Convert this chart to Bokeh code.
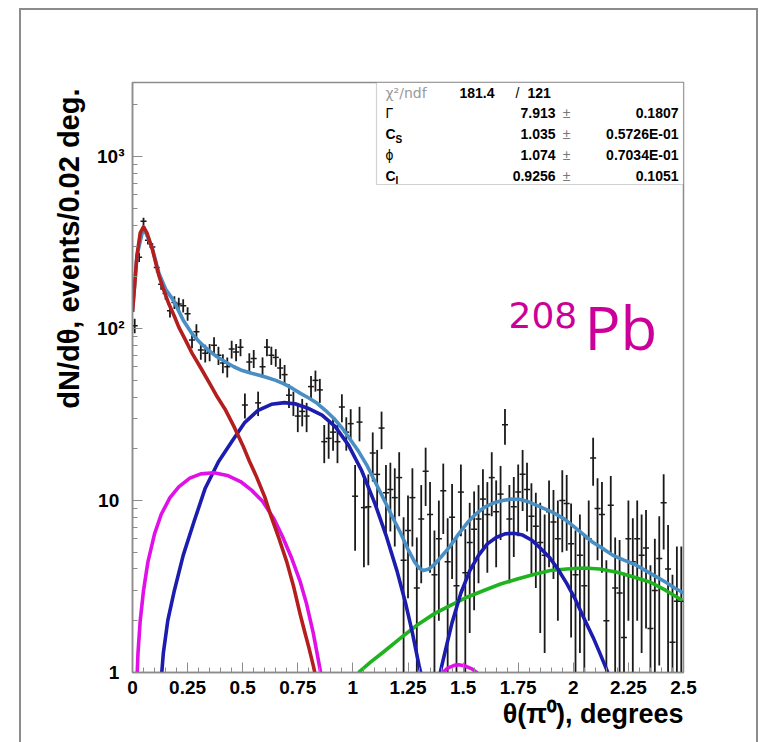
from bokeh.plotting import figure
from bokeh.models import Range1d, FixedTicker, Label, BoxAnnotation, ColumnDataSource, Title
from bokeh.embed import file_html
from bokeh.resources import INLINE

# ---------------- data ----------------
THETA = [0.01, 0.03, 0.05, 0.07, 0.09, 0.11, 0.13, 0.15, 0.17, 0.19,
         0.21, 0.23, 0.25, 0.27, 0.29, 0.31, 0.33, 0.35, 0.37, 0.39,
         0.41, 0.43, 0.45, 0.47, 0.49, 0.51, 0.53, 0.55, 0.57, 0.59,
         0.61, 0.63, 0.65, 0.67, 0.69, 0.71, 0.73, 0.75, 0.77, 0.79,
         0.81, 0.83, 0.85, 0.87, 0.89, 0.91, 0.93, 0.95, 0.97, 0.99,
         1.01, 1.03, 1.05, 1.07, 1.09, 1.11, 1.13, 1.15, 1.17, 1.19,
         1.21, 1.23, 1.25, 1.27, 1.29, 1.31, 1.33, 1.35, 1.37, 1.39,
         1.41, 1.43, 1.45, 1.47, 1.49, 1.51, 1.53, 1.55, 1.57, 1.59,
         1.61, 1.63, 1.65, 1.67, 1.69, 1.71, 1.73, 1.75, 1.77, 1.79,
         1.81, 1.83, 1.85, 1.87, 1.89, 1.91, 1.93, 1.95, 1.97, 1.99,
         2.01, 2.03, 2.05, 2.07, 2.09, 2.11, 2.13, 2.15, 2.17, 2.19,
         2.21, 2.23, 2.25, 2.27, 2.29, 2.31, 2.33, 2.35, 2.37, 2.39,
         2.41, 2.43, 2.45, 2.47, 2.49]
COUNTS = [104, 260, 421, 326, 298, 227, 181, 160, 127, 142,
          139, 136, 122, 86, 96, 75, 72, 73, 80, 70,
          63, 60, 76, 73, 78, 36, 64, 67, 37, 60,
          78, 70, 68, 59, 54, 41, 37, 31, 33, 31,
          46, 50, 44, 22, 23, 25, 22, 35, 25, 28,
          10.6, 28.6, 9.1, 9.2, 18.9, 14.2, 26.4, 11.1, 11.6, 10.4,
          13.6, 4.5, 6.7, 10.4, 3.1, 7.8, 14.8, 8.3, 3.7, 6.0,
          11.4, 4.4, 8.0, 3.2, 11.2, 3.8, 5.7, 6.8, 7.8, 10.2,
          8.3, 13.6, 8.6, 10.9, 27.6, 7.8, 9.2, 11.2, 14.2, 11.6,
          8.1, 7.1, 5.7, 4.8, 8.6, 7.5, 6.0, 10.0, 9.6, 5.6,
          3.7, 4.8, 3.2, 6.0, 17.7, 9.0, 8.3, 2.0, 9.4, 3.1,
          2.9, 1.6, 6.0, 4.4, 6.0, 4.8, 5.3, 1.8, 3.0, 4.6,
          9.7, 4.0, 1.5, 2.6, 2.6]
ERRORS = [10, 16, 20, 18, 17, 15, 13, 13, 11, 12,
          12, 12, 11, 9, 10, 9, 8.5, 8.5, 9, 8.5,
          8, 8, 9, 8.5, 9, 6, 8, 8, 6, 8,
          9, 8.5, 8, 8, 7.5, 6.5, 6, 6, 6, 6,
          7, 7, 7, 5.5, 5.5, 5.5, 5.5, 6.5, 5.5, 6,
          5.5, 6.5, 5, 5, 6, 5.5, 6.5, 5, 5, 5,
          5.5, 3.5, 4, 5, 3, 4.5, 5.5, 4.5, 3, 4,
          5, 3.5, 4.5, 3, 5, 3, 4, 4.5, 4.5, 5,
          4.5, 5.5, 4.5, 5, 6.5, 4.5, 4.5, 5, 5.5, 5,
          4.5, 4, 4, 3.5, 4.5, 4, 4, 5, 4.5, 4,
          3, 3.5, 3, 4, 5.5, 4.5, 4.5, 2.5, 4.5, 3,
          3, 2.2, 4, 3.5, 4, 3.5, 3.5, 2.4, 3, 3.5,
          4.5, 3.2, 2.2, 2.8, 2.8]

# fit components
COULOMB_X = [0.0, 0.01, 0.02, 0.035, 0.05, 0.065, 0.09, 0.12, 0.14, 0.165, 0.19, 0.21,
             0.24, 0.27, 0.31, 0.35, 0.385, 0.42, 0.46, 0.50, 0.53, 0.56, 0.60, 0.63,
             0.665, 0.70, 0.73, 0.76, 0.78, 0.80, 0.82, 0.835]
COULOMB_Y = [125, 180, 265, 360, 390, 362, 290, 203, 170, 139, 118, 102,
             86, 72, 59, 48, 40, 34, 27, 21, 17, 14, 10.5, 8.0,
             6.0, 4.4, 3.2, 2.2, 1.75, 1.4, 1.1, 0.9]

NUC1_X = [0.02, 0.025, 0.035, 0.05, 0.07, 0.10, 0.13, 0.17, 0.21, 0.26, 0.31, 0.37,
          0.43, 0.49, 0.54, 0.59, 0.64, 0.68, 0.72, 0.76, 0.79, 0.82, 0.845, 0.86]
NUC1_Y = [0.9, 1.3, 2.0, 3.0, 4.4, 6.4, 8.3, 10.4, 12.0, 13.5, 14.3, 14.5,
          14.0, 12.9, 11.5, 9.9, 7.9, 6.2, 4.7, 3.4, 2.5, 1.7, 1.15, 0.9]
NUC1B_X = [1.40, 1.43, 1.46, 1.48, 1.51, 1.54, 1.57]
NUC1B_Y = [0.98, 1.06, 1.10, 1.11, 1.09, 1.05, 0.98]

NUC2_X = [0.13, 0.14, 0.16, 0.19, 0.23, 0.28, 0.33, 0.39, 0.45, 0.51, 0.57, 0.63, 0.69,
          0.74, 0.80, 0.86, 0.92, 0.98, 1.04, 1.10, 1.15, 1.20, 1.24, 1.27, 1.30, 1.32]
NUC2_Y = [0.9, 1.3, 2.0, 3.0, 4.8, 7.6, 11.8, 16.8, 22.0, 28.5, 33.5, 36.3, 37.1,
          36.4, 34.3, 31.4, 26.9, 21.0, 14.9, 9.6, 6.3, 3.9, 2.5, 1.7, 1.1, 0.85]
NUC2B_X = [1.385, 1.40, 1.42, 1.45, 1.49, 1.53, 1.57, 1.61, 1.65, 1.69, 1.73, 1.77,
           1.81, 1.85, 1.89, 1.93, 1.97, 2.01, 2.05, 2.09, 2.12, 2.15, 2.17]
NUC2B_Y = [0.85, 1.05, 1.35, 1.95, 2.9, 3.9, 4.8, 5.6, 6.1, 6.4, 6.45, 6.3,
           5.9, 5.3, 4.7, 4.0, 3.3, 2.65, 2.05, 1.6, 1.3, 1.05, 0.9]

INCOH_X = [1.025, 1.08, 1.14, 1.22, 1.292, 1.37, 1.443, 1.52, 1.594, 1.67, 1.746,
           1.82, 1.896, 1.97, 2.048, 2.12, 2.199, 2.27, 2.35, 2.42, 2.494]
INCOH_Y = [1.0, 1.15, 1.32, 1.6, 1.89, 2.2, 2.46, 2.75, 3.0, 3.27, 3.5,
           3.72, 3.92, 4.0, 4.05, 4.0, 3.83, 3.6, 3.35, 3.0, 2.63]

TOTAL_X = [0.0, 0.02, 0.05, 0.09, 0.12, 0.15, 0.187, 0.23, 0.271, 0.31, 0.346, 0.38,
           0.422, 0.46, 0.498, 0.54, 0.575, 0.61, 0.65, 0.69, 0.726, 0.762, 0.80,
           0.838, 0.875, 0.913, 0.95, 0.989, 1.027, 1.065, 1.10, 1.14, 1.18, 1.216,
           1.25, 1.28, 1.30, 1.32, 1.345, 1.37, 1.40, 1.44, 1.48, 1.52, 1.56, 1.60,
           1.64, 1.68, 1.72, 1.76, 1.80, 1.85, 1.91, 1.96, 2.00, 2.05, 2.09, 2.14,
           2.18, 2.23, 2.28, 2.33, 2.37, 2.42, 2.46, 2.50]
TOTAL_Y = [125, 265, 390, 292, 210, 170, 145, 112, 93, 82, 74.7, 69,
           64, 60, 57, 55, 53.6, 52, 50, 47.5, 44.9, 42, 39.5,
           36.8, 33.5, 30.1, 26.5, 22.6, 19.2, 15.9, 12.9, 10.2, 8.0, 6.5,
           5.2, 4.4, 4.05, 3.92, 4.0, 4.25, 4.7, 5.4, 6.4, 7.45, 8.4, 9.2,
           9.7, 10.0, 10.2, 10.15, 9.8, 9.2, 8.5, 7.8, 7.1, 6.3, 5.7, 5.2,
           4.8, 4.5, 4.25, 3.9, 3.65, 3.35, 3.1, 2.9]

XTICKS = [0, 0.25, 0.5, 0.75, 1, 1.25, 1.5, 1.75, 2, 2.25, 2.5]
XTICK_LABELS = ["0", "0.25", "0.5", "0.75", "1", "1.25", "1.5", "1.75", "2", "2.25", "2.5"]
YTICKS = [1, 10, 100, 1000]
YTICK_LABELS = ["1\u2008", "10\u2008", "10²", "10³"]

X_TITLE = "θ(π⁰), degrees"
Y_TITLE = "dN/dθ, events/0.02 deg."

CHI2 = "181.4"
NDF = "121"
PAR_NAMES = ["Γ", "C", "ϕ", "C"]
PAR_SUBS = ["", "S", "", "I"]
PAR_VALUES = ["7.913", "1.035", "1.074", "0.9256"]
PAR_ERRORS = ["0.1807", "0.5726E-01", "0.7034E-01", "0.1051"]

# ---------------- figure ----------------
SANS = "Liberation Sans"
GRAY = "#8c8c8c"

p = figure(frame_width=551, frame_height=590,
           x_range=Range1d(0, 2.5), y_range=Range1d(1, 2700), y_axis_type="log",
           output_backend="svg", toolbar_location=None,
           min_border_left=132, min_border_right=77, min_border_top=82, min_border_bottom=70)
p.background_fill_color = "white"
p.border_fill_color = None
# outer page frame (left, top, right lines)
p.styles = {
    "background-color": "white",
    "background-image": ("linear-gradient(#8c8c8c,#8c8c8c), linear-gradient(#8c8c8c,#8c8c8c), "
                         "linear-gradient(#8c8c8c,#8c8c8c)"),
    "background-size": "2px 760px, 739px 2px, 2px 760px",
    "background-position": "19px 8px, 19px 8px, 756px 8px",
    "background-repeat": "no-repeat",
}
p.xgrid.visible = False
p.ygrid.visible = False
p.outline_line_color = GRAY
p.outline_line_width = 1.5

xminor = [i * 0.05 for i in range(51)]
p.xaxis.ticker = FixedTicker(ticks=XTICKS, minor_ticks=xminor)
p.xaxis.major_label_overrides = {float(t): s for t, s in zip(XTICKS, XTICK_LABELS)}
yminor = [m * d for d in (1, 10, 100, 1000) for m in range(2, 10)]
p.yaxis.ticker = FixedTicker(ticks=YTICKS, minor_ticks=yminor)
p.yaxis.major_label_overrides = {float(t): s for t, s in zip(YTICKS, YTICK_LABELS)}
for ax in (p.xaxis[0], p.yaxis[0]):
    ax.axis_line_color = GRAY
    ax.axis_line_width = 1.5
    ax.major_tick_line_color = GRAY
    ax.minor_tick_line_color = GRAY
    ax.major_tick_in = 10
    ax.major_tick_out = 0
    ax.minor_tick_in = 5
    ax.minor_tick_out = 0
    ax.major_label_text_font = SANS
    ax.major_label_text_font_style = "bold"
    ax.major_label_text_font_size = "19px"
    ax.major_label_text_color = "black"
p.xaxis.major_label_standoff = 8
p.yaxis.major_label_standoff = 8

# axis titles
p.add_layout(Title(text=Y_TITLE, align="right", offset=6, standoff=19,
                   text_font=SANS, text_font_style="bold", text_font_size="29px",
                   text_color="black"), "left")
p.add_layout(Title(text=X_TITLE, align="right", offset=0, standoff=0,
                   text_font=SANS, text_font_style="bold", text_font_size="27px",
                   text_color="black"), "below")

# data with error bars
lo = [max(c - e, 0.3) for c, e in zip(COUNTS, ERRORS)]
hi = [c + e for c, e in zip(COUNTS, ERRORS)]
src = ColumnDataSource(dict(x=THETA, y=COUNTS, lo=lo, hi=hi))
p.segment(x0="x", y0="lo", x1="x", y1="hi", source=src, line_color="#1a1a1a", line_width=1.8)
p.scatter(x="x", y="y", source=src, marker="dash", size=6, line_color="#1a1a1a", line_width=1.5)

# fit curves
LW = 3.6
p.line(INCOH_X, INCOH_Y, line_color="#1fb31f", line_width=LW, line_join="round")
p.line(NUC2_X, NUC2_Y, line_color="#1c1cae", line_width=LW, line_join="round")
p.line(NUC2B_X, NUC2B_Y, line_color="#1c1cae", line_width=LW, line_join="round")
p.line(NUC1_X, NUC1_Y, line_color="#e010e8", line_width=LW, line_join="round")
p.line(NUC1B_X, NUC1B_Y, line_color="#e010e8", line_width=LW, line_join="round")
p.line(TOTAL_X, TOTAL_Y, line_color="#4a8fc4", line_width=LW, line_join="round")
p.line(COULOMB_X, COULOMB_Y, line_color="#b41e1e", line_width=LW, line_join="round")

# statistics box
p.add_layout(BoxAnnotation(left=244, right=551, top=590, bottom=488,
                           left_units="screen", right_units="screen",
                           top_units="screen", bottom_units="screen",
                           fill_color="white", fill_alpha=1,
                           line_color="#6a6a6a", line_width=1.2))

def stat_text(x, y, text, align="left", size="14px", style="bold", color="black", font=SANS):
    p.add_layout(Label(x=x, y=y, x_units="screen", y_units="screen", text=text,
                       text_align=align, text_baseline="middle", text_font=font,
                       text_font_style=style, text_font_size=size, text_color=color))

ROW0 = 580
ROWSTEP = 20.8
stat_text(253, ROW0, "χ²/ndf", style="normal", color="#9a9a9a", font="DejaVu Sans")
stat_text(362, ROW0, CHI2, align="right")
stat_text(385, ROW0, "/", align="center", style="normal")
stat_text(395, ROW0, NDF)
for i, (nm, sb, v, e) in enumerate(zip(PAR_NAMES, PAR_SUBS, PAR_VALUES, PAR_ERRORS)):
    ry = ROW0 - ROWSTEP * (i + 1)
    stat_text(253, ry, nm, style="bold" if nm == "C" else "normal")
    if sb:
        stat_text(263, ry - 5, sb, size="10px")
    stat_text(423, ry, v, align="right")
    stat_text(434, ry, "±", align="center", style="normal", color="#777777")
    stat_text(546, ry, e, align="right")

# nucleus label
p.add_layout(Label(x=376, y=358, x_units="screen", y_units="screen", text="208",
                   text_align="left", text_baseline="middle", text_font="DejaVu Sans",
                   text_font_size="36px", text_color="#cc0099"))
p.add_layout(Label(x=452, y=346, x_units="screen", y_units="screen", text="Pb",
                   text_align="left", text_baseline="middle", text_font="Open Sans",
                   text_font_size="60px", text_color="#cc0099"))

open("out.html", "w").write(file_html(p, INLINE))
